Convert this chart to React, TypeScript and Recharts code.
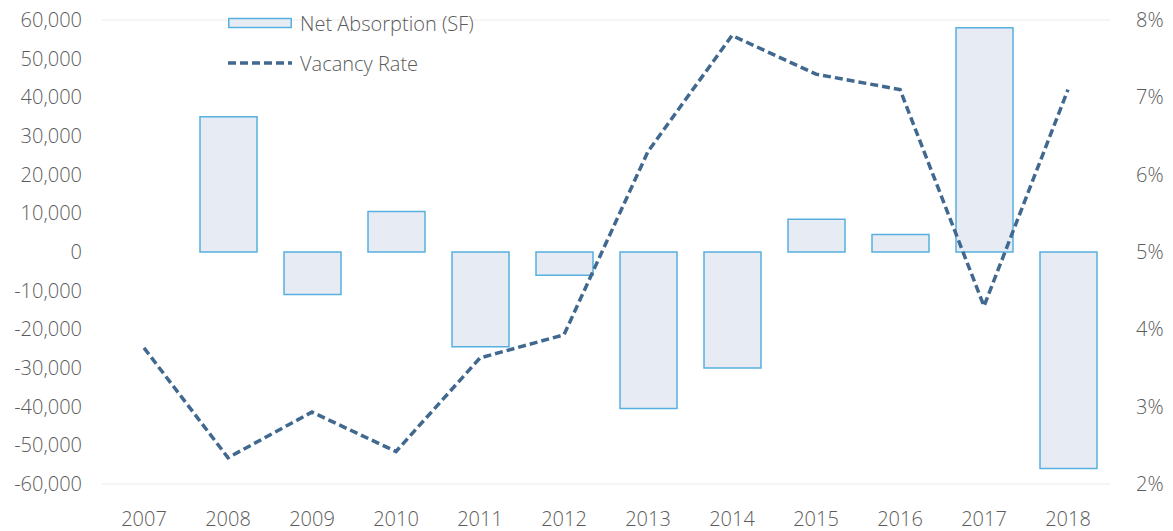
import React from "react";
import {
  Bar,
  CartesianGrid,
  ComposedChart,
  Line,
  XAxis,
  YAxis,
} from "recharts";

const years = ["2007", "2008", "2009", "2010", "2011", "2012", "2013", "2014", "2015", "2016", "2017", "2018"];
const netAbsorption = [null, 35000, -11000, 10500, -24500, -6000, -40500, -30000, 8500, 4500, 58000, -56000];
const vacancyRate = [3.76, 2.34, 2.93, 2.42, 3.63, 3.93, 6.3, 7.8, 7.3, 7.1, 4.3, 7.1];
const leftTicks = [60000, 50000, 40000, 30000, 20000, 10000, 0, -10000, -20000, -30000, -40000, -50000, -60000];
const rightTicks = [2, 3, 4, 5, 6, 7, 8];

const BAR_FILL = "#e7ebf3";
const BAR_STROKE = "#58b0e0";
const LINE_COLOR = "#41698f";
const TEXT = "#5c5c5c";
const FONT = "'Open Sans', sans-serif";
const tickStyle = { fontSize: 20, fill: TEXT, fontFamily: FONT, fontWeight: 300 };

const data = years.map((year, i) => ({
  year,
  absorption: netAbsorption[i],
  vacancy: vacancyRate[i],
}));

// legend drawn by hand (recharts' Legend would push the plot area aside)
function LegendBox() {
  const row: React.CSSProperties = { display: "flex", alignItems: "center", height: 40 };
  const label: React.CSSProperties = { fontSize: 20, color: TEXT, fontFamily: FONT, fontWeight: 300, marginLeft: 8 };
  return (
    <div style={{ position: "absolute", top: 3, left: 228 }}>
      <div style={row}>
        <svg width={64} height={12}>
          <rect x={0.75} y={1.5} width={62.5} height={9} fill={BAR_FILL} stroke={BAR_STROKE} strokeWidth={1.5} />
        </svg>
        <span style={label}>Net Absorption (SF)</span>
      </div>
      <div style={row}>
        <svg width={64} height={12}>
          <line x1={0} y1={6} x2={64} y2={6} stroke={LINE_COLOR} strokeWidth={3.5} strokeDasharray="8 4" />
        </svg>
        <span style={label}>Vacancy Rate</span>
      </div>
    </div>
  );
}

export default function App() {
  return (
    <div style={{ position: "absolute", top: 0, left: 0, width: 1173, height: 531, background: "#fff" }}>
      <ComposedChart
        width={1173}
        height={531}
        data={data}
        margin={{ top: 20, right: 0, bottom: 0, left: 0 }}
        barSize={57}
      >
        <CartesianGrid vertical={false} stroke="#ececec" strokeWidth={1} />
        <XAxis
          dataKey="year"
          axisLine={false}
          tickLine={false}
          tickSize={0}
          tickMargin={28}
          height={47}
          interval={0}
          tick={tickStyle}
        />
        <YAxis
          yAxisId="left"
          domain={[-60000, 60000]}
          ticks={leftTicks}
          width={102}
          axisLine={false}
          tickLine={false}
          tickSize={0}
          tickMargin={20}
          tick={tickStyle}
          tickFormatter={(v) => Number(v).toLocaleString("en-US")}
        />
        <YAxis
          yAxisId="right"
          orientation="right"
          domain={[2, 8]}
          ticks={rightTicks}
          width={63}
          axisLine={false}
          tickLine={false}
          tickSize={0}
          tickMargin={26}
          tick={{ ...tickStyle, textAnchor: "start" }}
          tickFormatter={(v) => `${v}%`}
        />
        <Bar
          yAxisId="left"
          dataKey="absorption"
          name="Net Absorption (SF)"
          fill={BAR_FILL}
          stroke={BAR_STROKE}
          strokeWidth={1.5}
          isAnimationActive={false}
        />
        <Line
          yAxisId="right"
          dataKey="vacancy"
          name="Vacancy Rate"
          type="linear"
          stroke={LINE_COLOR}
          strokeWidth={3.5}
          strokeDasharray="8 4"
          dot={false}
          activeDot={false}
          isAnimationActive={false}
        />
      </ComposedChart>
      <LegendBox />
    </div>
  );
}
